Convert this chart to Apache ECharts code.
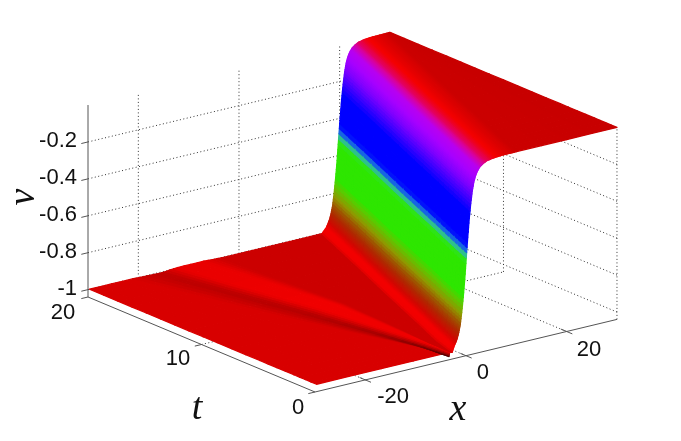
<!DOCTYPE html>
<html><head><meta charset="utf-8">
<style>html,body{margin:0;padding:0;background:#fff}#c{width:681px;height:441px}</style>
<script src="https://cdn.jsdelivr.net/npm/echarts@6/dist/echarts.min.js"></script>
</head><body><div id="c"></div>
<script>
// ---- tick values
const xTicks = [-20, 0, 20];
const tTicks = [0, 10, 20];
const vTicks = [-1, -0.8, -0.6, -0.4, -0.2];
const vTickLabels = ['-1', '-0.8', '-0.6', '-0.4', '-0.2'];
// ---- surface values
const rowT = [0, 2, 5, 10, 15, 20];
const frontCentre = [0.05, 2.0, 5.0, 9.9, 14.9, 19.8];
const frontOffset = [-2.4,-2.1,-1.8,-1.5,-1.2,-0.9,-0.6,-0.3,0,0.3,0.6,0.9,1.2,1.5,1.8,2.2,2.7,3.3,4,5,6,7,8.5,10];
const frontV = [-0.972,-0.955,-0.935,-0.905,-0.865,-0.80,-0.72,-0.625,-0.51,-0.40,-0.30,-0.22,-0.155,-0.11,-0.08,-0.055,-0.035,-0.022,-0.012,-0.006,-0.003,-0.0015,-0.0006,-0.0001];
const floorX0  = [-29.7, -4.0, -3.4, -3.2, -3.0, -2.9, -2.75];
const floorX2  = [-29.7, -5.6, -4.2, -3.6, -3.2, -2.8, -1.3];
const floorX5  = [-29.7, -8.5, -6.0, -4.6, -3.2, -2.2, 1.7];
const floorX10 = [-29.7, -13.0, -9.0, -6.6, -3.2, -1.5, 6.6];
const floorX15 = [-29.7, -17.0, -12.3, -9.5, -5.0, -2.5, 11.6];
const floorX20 = [-29.7, -21.0, -15.4, -12.2, -7.0, -3.5, 16.5];
const floorV0  = [-1, -1, -1.022, -0.995, -0.995, -1.002, -1.002];
const floorV2  = [-1, -1, -1.016, -0.995, -0.995, -1.002, -1.002];
const floorV5  = [-1, -1, -1.010, -0.995, -0.995, -1.002, -1.002];
const floorV10 = [-1, -1, -1.007, -0.995, -0.995, -1.002, -1.002];
const floorV15 = [-1, -1, -1.006, -0.996, -0.996, -1.002, -1.002];
const floorV20 = [-1, -1, -1.005, -0.997, -0.997, -1.002, -1.002];
const edgeX = 30, edgeV = 0;

// ---- axis limits
const xLim = [-30, 30], tLim = [0, 20], vLim = [-1.04, 0];

// ---- colour map over v
const mapV = [-1.022,-1.012,-1.006,-1.002,-1,-0.998,-0.995,-0.972,-0.945,-0.90,-0.86,-0.81,-0.75,-0.71,-0.53,-0.505,-0.485,-0.46,-0.435,-0.27,-0.14,-0.08,-0.04,-0.02,-0.008,-0.003,-0.0015,-0.0005,0];
const mapC = ['#300000','#900000','#b80000','#cc0000','#d80000','#e40000','#f00000','#f40000','#d00800','#b02800','#a05000','#909800','#58cc00','#2ee600','#2ee600','#30dc60','#2c9cc8','#0c48f0','#0000ff','#0000ff','#8000ff','#a800ff','#b800f0','#d800a0','#e80040','#f40000','#e80000','#d80000','#c80000'];
const mapRgb = mapC.map(h => [1,3,5].map(k => parseInt(h.substr(k,2),16)));
function colourOf(v){
  if (v <= mapV[0]) return mapC[0];
  for (let k = 1; k < mapV.length; k++) if (v <= mapV[k]) {
    const f = (v-mapV[k-1])/(mapV[k]-mapV[k-1]);
    const a = mapRgb[k-1], b = mapRgb[k];
    return 'rgb('+[0,1,2].map(n => Math.round(a[n]+(b[n]-a[n])*f)).join(',')+')';
  }
  return mapC[mapC.length-1];
}
// ---- view of the 3-D box on the page
function project(x,t,v){
  const u = x-xLim[0], w = tLim[1]-t, h = v-vLim[0];
  return [88 + u*5.033 + w*11.35, 297 - u*1.21 + w*4.75 - h*184.6];
}
// ---- nodes of each row
const floorXRows = [floorX0,floorX2,floorX5,floorX10,floorX15,floorX20];
const floorVRows = [floorV0,floorV2,floorV5,floorV10,floorV15,floorV20];
const nodeX = rowT.map((t,r) => floorXRows[r].concat(frontOffset.map(d => d+frontCentre[r]), [edgeX]));
const nodeV = rowT.map((t,r) => floorVRows[r].concat(frontV, [edgeV]));
const cells = [];
for (let r = 0; r < rowT.length-1; r++) for (let j = 0; j < nodeX[0].length-1; j++) cells.push([r,j]);

const SUBT = 4, SUBN = 4;
function renderCell(params, api){
  const r = api.value(0), j = api.value(1), kids = [];
  const P = (a,b) => { // a along t, b along nodes, both 0..1
    const x0 = nodeX[r][j]+(nodeX[r][j+1]-nodeX[r][j])*b, x1 = nodeX[r+1][j]+(nodeX[r+1][j+1]-nodeX[r+1][j])*b;
    const v0 = nodeV[r][j]+(nodeV[r][j+1]-nodeV[r][j])*b, v1 = nodeV[r+1][j]+(nodeV[r+1][j+1]-nodeV[r+1][j])*b;
    const t = rowT[r]+(rowT[r+1]-rowT[r])*a;
    return {x:x0+(x1-x0)*a, t, v:v0+(v1-v0)*a};
  };
  const C = p => api.coord(project(p.x,p.t,p.v));
  for (let a = 0; a < SUBT; a++) for (let b = 0; b < SUBN; b++) {
    const p00=P(a/SUBT,b/SUBN),p01=P(a/SUBT,(b+1)/SUBN),p11=P((a+1)/SUBT,(b+1)/SUBN),p10=P((a+1)/SUBT,b/SUBN);
    const c = colourOf((p00.v+p01.v+p11.v+p10.v)/4);
    kids.push({type:'polygon',shape:{points:[C(p00),C(p01),C(p11),C(p10)]},style:{fill:c,stroke:c,lineWidth:1.3,lineJoin:'round'}});
  }
  return {type:'group',children:kids};
}
// ---- grid and axis segments, as [x,t,v] pairs
const dotted = [];
vTicks.forEach(v => {
  dotted.push([[xLim[0],tLim[1],v],[xLim[1],tLim[1],v]]);
  dotted.push([[xLim[1],tLim[0],v],[xLim[1],tLim[1],v]]);
});
xTicks.forEach(x => {
  dotted.push([[x,tLim[1],vLim[0]],[x,tLim[1],vLim[1]]]);
  dotted.push([[x,tLim[0],vLim[0]],[x,tLim[1],vLim[0]]]);
});
tTicks.forEach(t => {
  dotted.push([[xLim[1],t,vLim[0]],[xLim[1],t,vLim[1]]]);
  if (t > tLim[0] && t < tLim[1]) dotted.push([[xLim[0],t,vLim[0]],[xLim[1],t,vLim[0]]]);
});
const solid = [
  [[xLim[0],tLim[1],vLim[0]],[xLim[0],tLim[1],vLim[1]]],
  [[xLim[0],tLim[1],vLim[0]],[xLim[0],tLim[0],vLim[0]]],
  [[xLim[0],tLim[0],vLim[0]],[xLim[1],tLim[0],vLim[0]]]
];
const TL = 1.33;
vTicks.forEach(v => solid.push([[xLim[0],tLim[1],v],[xLim[0]-TL,tLim[1],v]]));
tTicks.forEach(t => solid.push([[xLim[0],t,vLim[0]],[xLim[0]-TL,t,vLim[0]]]));
xTicks.forEach(x => solid.push([[x,tLim[0]+0.5,vLim[0]],[x,tLim[0]-0.5,vLim[0]]]));

function segRenderer(style){
  return function(params, api){
    const seg = (style.dash ? dotted : solid)[params.dataIndex];
    const a = api.coord(project(...seg[0])), b = api.coord(project(...seg[1]));
    return {type:'line',shape:{x1:a[0],y1:a[1],x2:b[0],y2:b[1]},
      style:{stroke:style.color,lineWidth:1,lineDash:style.dash||null,fill:null}};
  };
}
// ---- texts
const SANS = '22px "Liberation Sans", Arial, sans-serif';
const MATH = 'italic 38px "Liberation Serif", serif';
const texts = [];
vTicks.forEach((v,i) => { const p = project(xLim[0],tLim[1],v);
  texts.push({s:vTickLabels[i],x:p[0]-11,y:p[1]-1,align:'right',font:SANS}); });
const tNudge = [[-17,16],[-23.5,14.5],[-25,16]];
tTicks.forEach((t,i) => { const p = project(xLim[0],t,vLim[0]);
  texts.push({s:String(t),x:p[0]+tNudge[i][0],y:p[1]+tNudge[i][1],align:'center',font:SANS}); });
const xNudge = [[27.7,17],[17,17.4],[22.4,18.6]];
xTicks.forEach((x,i) => { const p = project(x,tLim[0],vLim[0]);
  texts.push({s:String(x),x:p[0]+xNudge[i][0],y:p[1]+xNudge[i][1],align:'center',font:SANS}); });
texts.push({s:'x',x:458,y:410,align:'center',font:MATH});
texts.push({s:'t',x:197,y:409,align:'center',font:MATH});
texts.push({s:'v',x:24,y:197,align:'center',font:MATH,rot:Math.PI/2});

const chart = echarts.init(document.getElementById('c'),null,{renderer:'canvas'});
chart.setOption({
  animation:false, backgroundColor:'#fff',
  grid:{left:0,right:0,top:0,bottom:0},
  xAxis:{type:'value',min:0,max:681,show:false},
  yAxis:{type:'value',min:0,max:441,inverse:true,show:false},
  series:[
    {type:'custom',name:'grid',silent:true,clip:false,z:1,data:dotted.map((s,i)=>[i,0]),
     renderItem:segRenderer({color:'#333',dash:[1,2.5]})},
    {type:'custom',name:'axes',silent:true,clip:false,z:2,data:solid.map((s,i)=>[i,0]),
     renderItem:segRenderer({color:'#555'})},
    {type:'custom',name:'v(x,t)',silent:true,clip:false,z:3,data:cells,renderItem:renderCell},
    {type:'custom',name:'labels',silent:true,clip:false,z:4,data:texts.map((s,i)=>[i,0]),
     renderItem:function(params,api){
       const T = texts[params.dataIndex], p = api.coord([T.x,T.y]);
       return {type:'text',x:p[0],y:p[1],rotation:T.rot||0,
         style:{text:T.s,font:T.font,fill:'#111',align:T.align,verticalAlign:'middle'}};
     }}
  ]
});
</script></body></html>
